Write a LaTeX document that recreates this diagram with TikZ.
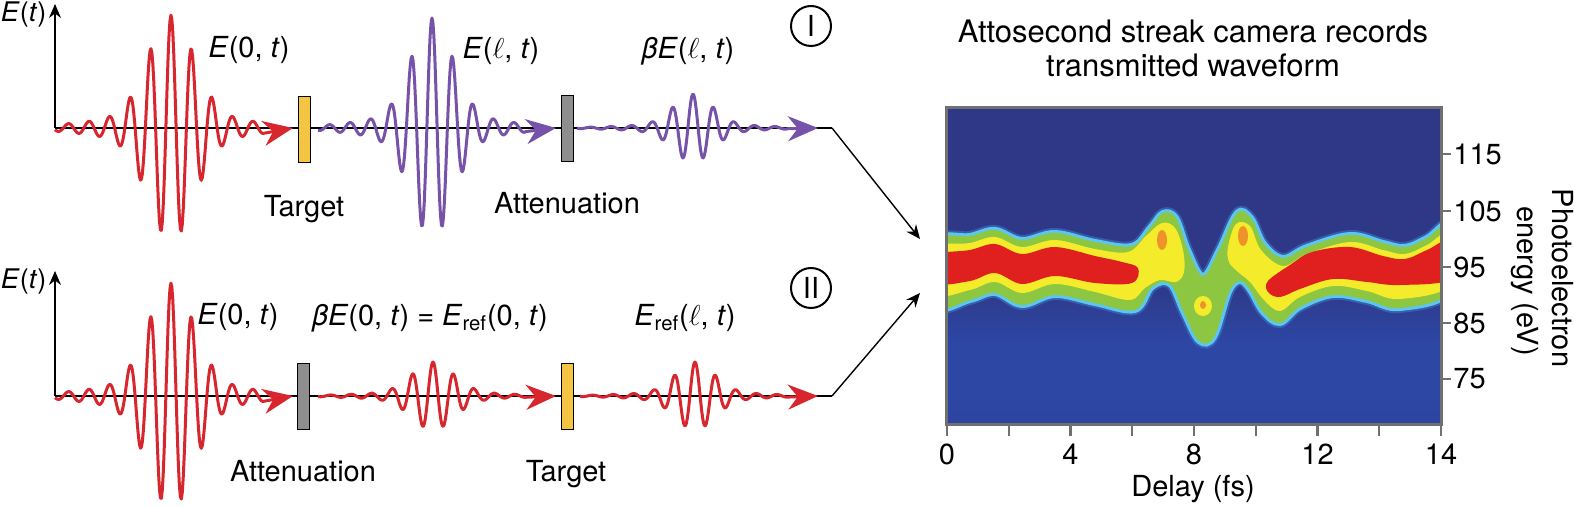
\documentclass[tikz,border=0pt]{standalone}
\usepackage{fontspec}
\setmainfont{TeX Gyre Heros}
\usetikzlibrary{arrows.meta}

\definecolor{wavered}{HTML}{D7262D}
\definecolor{wavepurple}{HTML}{7652A8}
\definecolor{targetyellow}{HTML}{F4C542}
\definecolor{absorbgray}{HTML}{8E8E8E}
\definecolor{plotnavy}{HTML}{2E3886}
\definecolor{plotblue}{HTML}{2D47A5}
\definecolor{bandhalo}{HTML}{3E74C8}
\definecolor{bandcyan}{HTML}{5CC6EE}
\definecolor{bandgreen}{HTML}{8DC641}
\definecolor{bandyellow}{HTML}{F4EB2A}
\definecolor{bandorange}{HTML}{F0922A}
\definecolor{bandred}{HTML}{E0201F}
\definecolor{framegray}{HTML}{707070}

\newcommand{\pulse}[7]{%
  \draw[wave,#1,-{Stealth[length=15pt,width=12.5pt]}]
    plot[domain=#5:#6,samples=220] (\x,{#7-#3*(0.88*exp(-min(((\x-#2)/#4)^2,9))+0.12*exp(-min(((\x-#2)/(3*#4))^2,9)))*cos(17.56*(\x-#2))})
    -- ({#6+30},#7);}

\def\bandouter{plot[smooth cycle,tension=0.6] coordinates {
  (935,242) (970,236) (995,230) (1022,240) (1055,233) (1095,242) (1132,246) (1150,228)
  (1163,213) (1176,218) (1188,250) (1203,276) (1219,250) (1237,213) (1251,218) (1264,244)
  (1283,258) (1307,247) (1350,235) (1383,243) (1405,247) (1427,238) (1452,224)
  (1452,290) (1400,308) (1367,300) (1333,295) (1300,307) (1280,323) (1263,312) (1250,290)
  (1240,281) (1229,292) (1214,337) (1199,341) (1184,313) (1170,284) (1152,287) (1135,310)
  (1095,303) (1055,295) (1022,305) (995,293) (970,300) (935,306)}}

\begin{document}
\begin{tikzpicture}[x=0.5pt,y=-0.5pt,>={Stealth[length=7pt,width=6pt]},
    wave/.style={line width=1.5pt,line join=round},
    axis line/.style={line width=0.7pt},
    lbl/.style={font=\fontsize{14.5}{17}\selectfont,inner sep=0pt},
    target/.style={draw,line width=0.5pt,fill=targetyellow,minimum width=6pt,minimum height=33pt,inner sep=0pt},
    absorber/.style={draw,line width=0.5pt,fill=absorbgray,minimum width=6pt,minimum height=33pt,inner sep=0pt},
    stage/.style={circle,draw,line width=1pt,minimum size=20pt,inner sep=0pt,font=\fontsize{14.5}{17}\selectfont}]

  \useasboundingbox (0,0) rectangle (1575,507);

  % row I
  \coordinate (oI) at (55,128);
  \coordinate (topI) at (55,4);
  \coordinate (endI) at (832,128);
  \coordinate (inI) at (920,239);
  \draw[axis line] (oI) -- (endI);
  \draw[axis line,->] (oI) -- (topI);
  \pulse{wavered}{171}{113}{32}{55}{263}{128}
  \pulse{wavepurple}{432}{110}{29}{318}{526}{128}
  \pulse{wavepurple}{693}{34}{27}{577}{788}{128}
  \node[target] at (304,130) (tgtI) {};
  \node[absorber] at (567,129) (attI) {};
  \node[lbl,anchor=base west,font=\fontsize{13.5}{16}\selectfont] at (0.5,22) (EtI) {\textit{E}(\textit{t})};
  \node[lbl,anchor=base] at (249,58) (fI0) {\textit{E}(0, \textit{t})};
  \node[lbl,anchor=base] at (501,59) (fI1) {\textit{E}($\ell$, \textit{t})};
  \node[lbl,anchor=base] at (688,59) (fI2) {\textit{βE}($\ell$, \textit{t})};
  \node[lbl,anchor=base] at (304,217) (tgtIlbl) {Target};
  \node[lbl,anchor=base] at (567,214) (attIlbl) {Attenuation};
  \node[stage] at (811,26) (stI) {I};

  % row II
  \coordinate (oII) at (55,396);
  \coordinate (topII) at (55,271);
  \coordinate (endII) at (832,396);
  \coordinate (inII) at (920,293);
  \draw[axis line] (oII) -- (endII);
  \draw[axis line,->] (oII) -- (topII);
  \pulse{wavered}{171}{113}{32}{55}{263}{396}
  \pulse{wavered}{433}{34}{29}{318}{526}{396}
  \pulse{wavered}{695}{34}{27}{580}{788}{396}
  \node[absorber] at (303.5,397) (attII) {};
  \node[target] at (567,397) (tgtII) {};
  \node[lbl,anchor=base west,font=\fontsize{13.5}{16}\selectfont] at (0.5,289) (EtII) {\textit{E}(\textit{t})};
  \node[lbl,anchor=base] at (238,325) (fII0) {\textit{E}(0, \textit{t})};
  \node[lbl,anchor=base] at (430,326) (fII1) {\textit{βE}(0, \textit{t}) = \textit{E}\textsubscript{ref}(0, \textit{t})};
  \node[lbl,anchor=base] at (685,326) (fII2) {\textit{E}\textsubscript{ref}($\ell$, \textit{t})};
  \node[lbl,anchor=base] at (303,482) (attIIlbl) {Attenuation};
  \node[lbl,anchor=base] at (566,482) (tgtIIlbl) {Target};
  \node[stage] at (811,288) (stII) {II};

  \path (endI) edge[axis line,->] (inI)
        (endII) edge[axis line,->] (inII);

  % streak trace
  \begin{scope}
    \clip (946,108) rectangle (1441,425);
    \fill[plotnavy] (946,108) rectangle (1441,425);
    \shade[top color=plotnavy,bottom color=plotblue] (946,280) rectangle (1441,345);
    \fill[plotblue] (946,344) rectangle (1441,396);
    \shade[top color=plotblue,bottom color=plotblue!80!plotnavy] (946,395) rectangle (1441,425);
    \path[fill=bandhalo,draw=bandhalo,line width=5pt,opacity=0.6] \bandouter;
    \path[fill=bandcyan,draw=bandcyan,line width=3pt] \bandouter;
    \fill[bandgreen] \bandouter;
    \fill[bandyellow] plot[smooth cycle,tension=0.6] coordinates {
      (935,249) (970,243) (995,237) (1022,247) (1055,240) (1095,249) (1128,252) (1146,236)
      (1162,223) (1175,228) (1183,250) (1184,272) (1176,282) (1160,280) (1145,288) (1130,300)
      (1095,292) (1055,284) (1022,293) (995,282) (970,290) (935,294)};
    \fill[bandyellow] plot[smooth cycle,tension=0.6] coordinates {
      (1228,247) (1236,224) (1250,226) (1261,250) (1283,266) (1307,254) (1350,242) (1383,250)
      (1405,254) (1427,245) (1452,232) (1452,284) (1400,299) (1367,291) (1333,286) (1300,297)
      (1280,311) (1264,300) (1250,282) (1238,272) (1229,262)};
    \fill[bandred] plot[smooth cycle,tension=0.6] coordinates {
      (935,256) (970,250) (995,244) (1022,254) (1055,247) (1095,256) (1122,262) (1138,268)
      (1132,283) (1095,283) (1055,276) (1022,284) (995,273) (970,281) (935,283)};
    \fill[bandred] plot[smooth cycle,tension=0.6] coordinates {
      (1268,281) (1290,265) (1312,252) (1350,247) (1383,256) (1405,259) (1427,250) (1452,240)
      (1452,278) (1400,285) (1367,282) (1333,279) (1300,289) (1280,297) (1268,292)};
    \fill[bandorange] (1162,240) ellipse (2.5pt and 5pt);
    \fill[bandorange] (1243,236) ellipse (2.5pt and 5pt);
    \fill[bandyellow] (1203,306) ellipse (4.5pt and 5pt);
    \fill[bandorange] (1203,305) ellipse (1.5pt and 2pt);
  \end{scope}
  \draw[framegray,line width=1.5pt] (946,108) rectangle (1441,425);

  \foreach \i in {0,...,8}
    \draw[framegray,line width=1.2pt] ({947+61.75*\i},425) -- ({947+61.75*\i},436);
  \foreach \i/\t in {0/0,2/4,4/8,6/12,8/14}
    \node[lbl,anchor=base] at ({947+61.75*\i},465) (xt\i) {\t};
  \foreach \e/\yy in {115/154,105/211,95/267,85/323,75/379} {
    \draw[framegray,line width=1.2pt] (1441,\yy) -- (1451,\yy);
    \node[lbl,anchor=west] at (1453,\yy) (yt\e) {\e};
  }
  \node[lbl,anchor=base] at (1193,497) (xlabel) {Delay (fs)};
  \node[lbl,rotate=-90] at (1563,278) (ylabel1) {Photoelectron};
  \node[lbl,rotate=-90] at (1525,281) (ylabel2) {energy (eV)};
  \node[lbl,anchor=base,font=\fontsize{15.5}{18}\selectfont] at (1193,43) (title1) {Attosecond streak camera records};
  \node[lbl,anchor=base,font=\fontsize{15.5}{18}\selectfont] at (1193,77) (title2) {transmitted waveform};
\end{tikzpicture}
\end{document}
